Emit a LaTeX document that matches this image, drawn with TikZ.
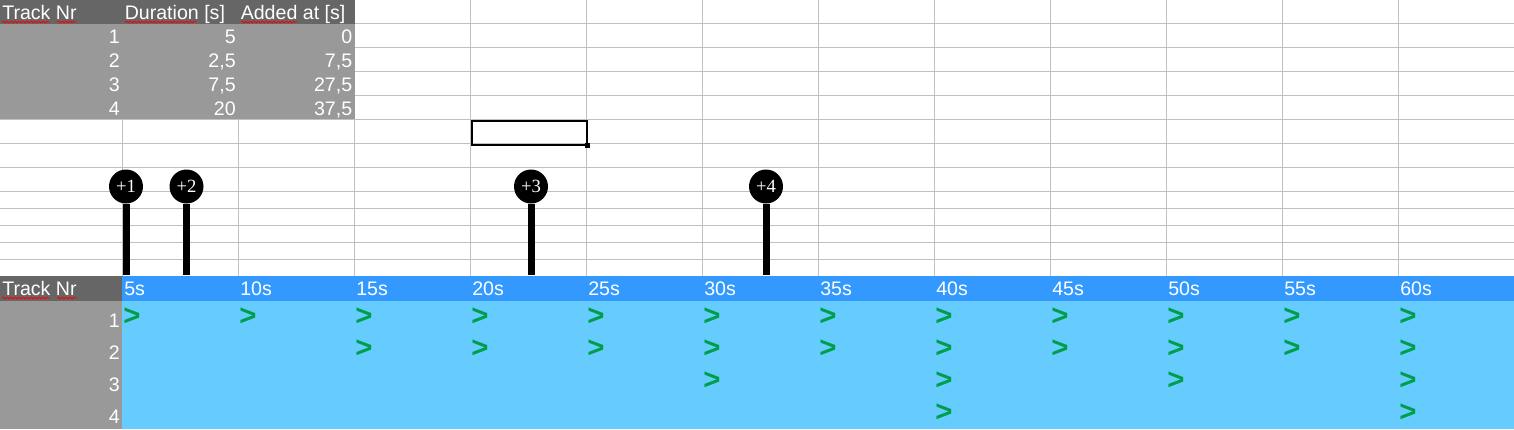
\documentclass[tikz,border=0pt]{standalone}
\usepackage{fontspec}
\setmainfont{Liberation Sans}
\newfontfamily\mkfont{Liberation Serif}
\usetikzlibrary{decorations.pathmorphing}
\definecolor{hdark}{HTML}{666666}
\definecolor{hmid}{HTML}{999999}
\definecolor{tblue}{HTML}{3399FF}
\definecolor{lblue}{HTML}{66CCFF}
\definecolor{gline}{HTML}{C0C0C0}
\definecolor{chev}{HTML}{009E49}
\begin{document}
\begin{tikzpicture}[x=0.75pt,y=-0.75pt,
  txt/.style={inner sep=0pt, text=white, font=\fontsize{14.7pt}{17pt}\selectfont},
  lt/.style={txt, anchor=base west},
  rt/.style={txt, anchor=base east},
  chevron/.style={inner sep=0pt, anchor=west, text=chev, font=\fontsize{22pt}{24pt}\selectfont\bfseries},
  gridln/.style={draw=gline, line width=0.75pt},
  spell/.style={draw=red, line width=0.6pt, decorate, decoration={snake, amplitude=0.7pt, segment length=3pt}},
  marker/.style={circle, fill=black, minimum size=25.5pt, inner sep=0pt, text=white, font=\mkfont\fontsize{14pt}{16pt}\selectfont},
  stem/.style={line width=5.25pt, black},
]
\useasboundingbox (0,0) rectangle (1514,429);
\fill[white] (0,0) rectangle (1514,429);
% grid lines
\foreach \y in {23.5,47.5,71.5,95.5} \draw[gridln] (354,\y) -- (1514,\y);
\foreach \y in {119.5,143.5,167.5,191.5,208.5,225.5,242.5,259.5} \draw[gridln] (0,\y) -- (1514,\y);
\foreach \x in {122,238,354} \draw[gridln] (\x,119.5) -- (\x,276);
\foreach \x in {470,586,...,1398} \draw[gridln] (\x,0) -- (\x,276);
% top table
\fill[hdark] (0,0) rectangle (354.5,23.5);
\fill[hmid] (0,23.5) rectangle (354.5,119);
\node[lt] (h1) at (2,19.5) {Track Nr};
\node[lt] (h2) at (124.5,19.5) {Duration [s]};
\node[lt] (h3) at (240.5,19.5) {Added at [s]};
\draw[spell] (2,22) -- (50,22);
\draw[spell] (57,22) -- (77,22);
\draw[spell] (125,22) -- (197,22);
\draw[spell] (241,22) -- (297,22);
\node[rt] (n1) at (120,43) {1};
\node[rt] (d1) at (236,43) {5};
\node[rt] (a1) at (352.5,43) {0};
\node[rt] (n2) at (120,67) {2};
\node[rt] (d2) at (236,67) {2,5};
\node[rt] (a2) at (352.5,67) {7,5};
\node[rt] (n3) at (120,91) {3};
\node[rt] (d3) at (236,91) {7,5};
\node[rt] (a3) at (352.5,91) {27,5};
\node[rt] (n4) at (120,115) {4};
\node[rt] (d4) at (236,115) {20};
\node[rt] (a4) at (352.5,115) {37,5};
% selected cell
\node[draw=black, line width=1.5pt, minimum width=86.6pt, minimum height=18pt, inner sep=0pt, anchor=north west] (sel) at (470.5,119.5) {};
\node[fill=black, minimum size=3.75pt, inner sep=0pt] (handle) at (sel.south east) {};
% timeline table
\fill[hdark] (0,276) rectangle (122,300.5);
\fill[tblue] (122,276) rectangle (1514,300.5);
\fill[hmid] (0,300.5) rectangle (122,429);
\fill[lblue] (122,300.5) rectangle (1514,429);
\node[lt] (th) at (2,295) {Track Nr};
\draw[spell] (2,298) -- (50,298);
\draw[spell] (57,298) -- (77,298);
\foreach \k/\s in {0/5,1/10,2/15,3/20,4/25,5/30,6/35,7/40,8/45,9/50,10/55,11/60}
  \node[lt] (t\k) at ({124+116*\k},295) {\s s};
\node[rt] (r1) at (120,327) {1};
\node[rt] (r2) at (120,359) {2};
\node[rt] (r3) at (120,391) {3};
\node[rt] (r4) at (120,423) {4};
\foreach \k in {0,...,11} \node[chevron] (ga\k) at ({123+116*\k},316.5) {>};
\foreach \k in {2,...,11} \node[chevron] (gb\k) at ({123+116*\k},348.5) {>};
\foreach \k in {5,7,9,11} \node[chevron] (gc\k) at ({123+116*\k},380.5) {>};
\foreach \k in {7,11} \node[chevron] (gd\k) at ({123+116*\k},412.5) {>};
% markers
\node[marker] (m1) at (126,186.5) {+1};
\node[marker] (m2) at (186.5,186.5) {+2};
\node[marker] (m3) at (531,186.5) {+3};
\node[marker] (m4) at (766,186.5) {+4};
\coordinate (b1) at (126,275);
\coordinate (b2) at (186.5,275);
\coordinate (b3) at (531,275);
\coordinate (b4) at (766,275);
\foreach \i in {1,...,4} \draw[stem] (m\i) -- (b\i);
\end{tikzpicture}
\end{document}
